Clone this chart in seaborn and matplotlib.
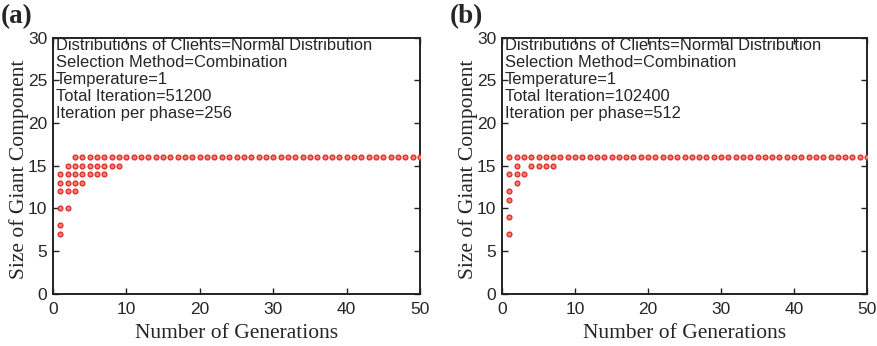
import pandas as pd
import numpy as np
import matplotlib
matplotlib.use("Agg")
import matplotlib.pyplot as plt
import seaborn as sns

# panel (a): distinct giant-component sizes seen at each generation
gen_a = [1, 1, 1, 1, 1, 1,
         2, 2, 2, 2, 2,
         3, 3, 3, 3, 3,
         4, 4, 4, 4,
         5, 5, 5, 6, 6, 6, 7, 7, 7,
         8, 8, 9, 9] + list(range(10, 51))
size_a = [7, 8, 10, 12, 13, 14,
          10, 12, 13, 14, 15,
          12, 13, 14, 15, 16,
          13, 14, 15, 16,
          14, 15, 16, 14, 15, 16, 14, 15, 16,
          15, 16, 15, 16] + [16] * 41

# panel (b)
gen_b = [1, 1, 1, 1, 1, 1,
         2, 2, 2, 2,
         3, 3,
         4, 4, 5, 5, 6, 6, 7, 7] + list(range(8, 51))
size_b = [7, 9, 11, 12, 14, 16,
          13, 14, 15, 16,
          14, 16,
          15, 16, 15, 16, 15, 16, 15, 16] + [16] * 43

info_a = ["Distributions of Clients=Normal Distribution",
          "Selection Method=Combination",
          "Temperature=1",
          "Total Iteration=51200",
          "Iteration per phase=256"]
info_b = ["Distributions of Clients=Normal Distribution",
          "Selection Method=Combination",
          "Temperature=1",
          "Total Iteration=102400",
          "Iteration per phase=512"]

sns.set_style("ticks")
plt.rcParams['font.family'] = ['Liberation Sans', 'DejaVu Sans']
plt.rcParams['xtick.direction'] = 'in'
plt.rcParams['ytick.direction'] = 'in'

fig = plt.figure(figsize=(8.77, 3.46), dpi=100)
W, H = 877, 346
boxes = [(53, 420), (502, 867)]
top, bottom = 37.5, 293.5

panels = [("(a)", gen_a, size_a, info_a), ("(b)", gen_b, size_b, info_b)]

for (left, right), (tag, gx, gy, info) in zip(boxes, panels):
    ax = fig.add_axes([left / W, 1 - bottom / H, (right - left) / W, (bottom - top) / H])
    df = pd.DataFrame({'gen': gx, 'size': gy})
    sns.scatterplot(data=df, x='gen', y='size', ax=ax, marker='o', s=12,
                    color='#f08078', edgecolor='#dd2a22', linewidth=0.9, zorder=3)
    ax.set_xlim(0, 50)
    ax.set_ylim(0, 30)
    ax.set_xticks(range(0, 51, 10))
    ax.set_yticks(range(0, 31, 5))
    ax.tick_params(axis='both', which='both', top=True, right=True, length=4,
                   width=1, labelsize=12.5, color='#222222', pad=4)
    ax.tick_params(axis='x', pad=6)
    for sp in ax.spines.values():
        sp.set_linewidth(1.4)
        sp.set_color('#222222')
        sp.set_visible(True)
    ax.set_xlabel("Number of Generations", family='Liberation Serif', fontsize=15.5, labelpad=5)
    ax.set_ylabel("Size of Giant Component", family='Liberation Serif', fontsize=15.5, labelpad=-1)
    ax.yaxis.label.set_y(0.485)
    ax.text(0.008, 0.997, "\n".join(info), transform=ax.transAxes, ha='left', va='top',
            fontsize=11.9, linespacing=1.16)
    fig.text((left - 52) / W, 1 - 17 / H, tag, family='Liberation Serif', fontweight='bold',
             fontsize=19.5, ha='left', va='center')

fig.savefig("out.png", dpi=100)
